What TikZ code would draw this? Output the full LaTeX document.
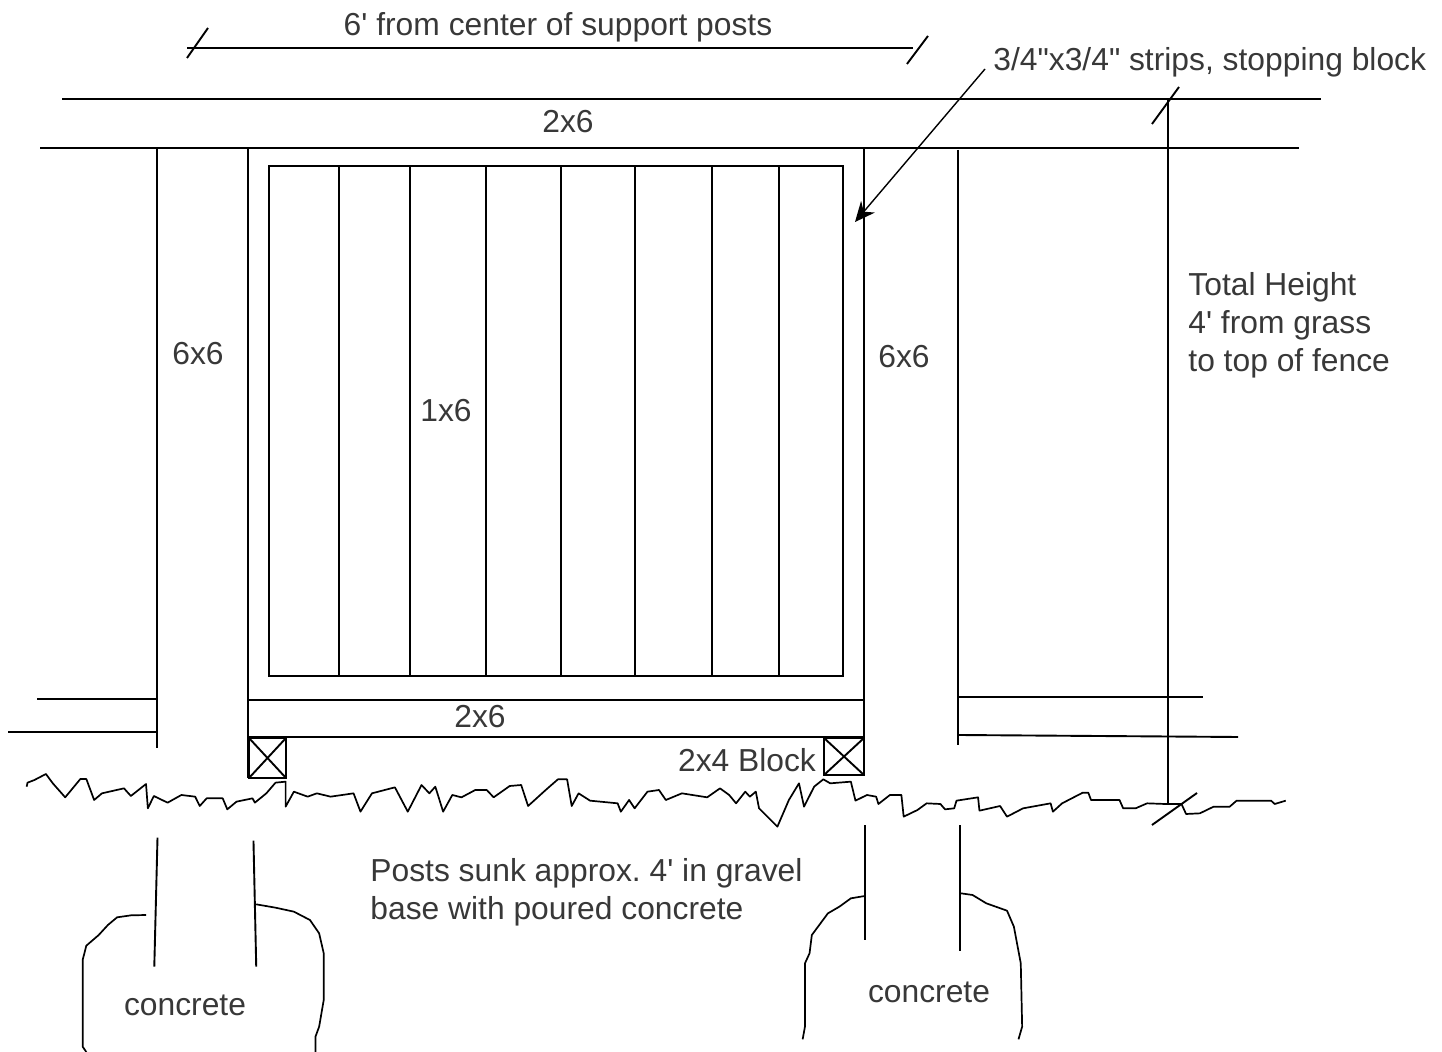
\documentclass[tikz,border=0pt]{standalone}
\usepackage{fontspec}
\newfontfamily\lab{Liberation Sans}
\usetikzlibrary{arrows.meta}
\tikzset{
  ln/.style={draw=black,line width=0.95pt},
  rough/.style={draw=black,line width=0.85pt,line join=round},
  lbl/.style={font=\lab\frenchspacing\fontsize{15.9}{19}\selectfont,text=black!78,inner sep=0pt,align=left},
  zoomL/.style={x=0.2296pt,y=-0.16667pt,shift={(0pt,-340pt)}},
  zoomR/.style={x=0.2296pt,y=-0.16667pt,shift={(360pt,-340pt)}}
}
\begin{document}
\begin{tikzpicture}[x=0.5pt,y=-0.5pt]
\useasboundingbox (0,0) rectangle (1442,1052);
% dimension along the top
\coordinate (dl) at (187,48); \coordinate (dr) at (913,48);
\coordinate (dla) at (187,58); \coordinate (dlb) at (208,28);
\coordinate (dra) at (907,64); \coordinate (drb) at (928,36);
\draw[ln] (dl) -- (dr); \draw[ln] (dla) -- (dlb); \draw[ln] (dra) -- (drb);
% top rail
\coordinate (t1a) at (62,99); \coordinate (t1b) at (1321,99);
\coordinate (t2a) at (40,148); \coordinate (t2b) at (1299,148);
\draw[ln] (t1a) -- (t1b); \draw[ln] (t2a) -- (t2b);
% posts
\draw[ln] (157,148) -- (157,748);
\draw[ln] (248,148) -- (248,778);
\draw[ln] (864,148) -- (864,775);
\draw[ln] (958,150) -- (958,745);
% panel and boards
\draw[ln] (269,166) rectangle (843,676);
\foreach \bx in {339,410,486,561,635,712,779} \draw[ln] (\bx,166) -- (\bx,676);
% bottom rails
\draw[ln] (248,700) -- (864,700);
\draw[ln] (248,737) -- (864,737);
\draw[ln] (37,699) -- (157,699);
\draw[ln] (8,732) -- (157,732);
\draw[ln] (958,697) -- (1203,697);
\draw[ln] (958,735) -- (1238,737);
% blocks
\draw[ln] (249,738) rectangle (286,778) (249,738) -- (286,778) (286,738) -- (249,778);
\draw[ln] (824,738) rectangle (864,775) (824,738) -- (864,775) (864,738) -- (824,775);
% total height
\coordinate (hT) at (1168,99); \coordinate (hB) at (1168,805);
\draw[ln] (hT) -- (hB);
\draw[ln] (1152,124) -- (1179,87);
\draw[ln] (1152,825) -- (1197,793);
% ground
\begin{scope}[zoomL]
\draw[rough] (58,320)--(60,308)--(75,300)--(100,282)--(115,310)--(142,352)--(175,297)--(188,297)--(205,360)--(222,340)--(270,325)--(285,348)--(318,312)--(322,385)--(335,348)--(365,368)--(395,345)--(425,350)--(435,378)--(450,355)--(485,355)--(495,388)--(515,365)--(550,355)--(555,368)--(580,340)--(600,308)--(622,305)--(622,380)--(640,335)--(670,350)--(690,340)--(720,350)--(770,340)--(785,395)--(810,340)--(860,322)--(888,395)--(918,315)--(935,340)--(948,320)--(965,395)--(985,345)--(1005,352)--(1035,330)--(1060,330)--(1075,352)--(1110,318)--(1135,315)--(1150,378)--(1190,328)--(1215,298)--(1235,298)--(1245,378)--(1260,340)--(1285,362)--(1345,370)--(1352,395)--(1370,360)--(1382,385)--(1410,335)--(1435,330)--(1450,360)--(1485,340)--(1540,352)--(1568,325);
% left footing
\draw[ln] (343,473) -- (336,860);
\draw[ln] (552,482) -- (558,860);
\draw[rough] (318,705)--(285,706)--(255,712)--(235,735)--(215,765)--(188,797)--(180,840)--(180,1100)--(188,1116);
\draw[rough] (558,673)--(600,683)--(640,695)--(675,720)--(695,760)--(705,820)--(705,960)--(695,1040)--(687,1070)--(687,1116);
\end{scope}
\begin{scope}[zoomR]
\draw[rough] (0,325)--(20,345)--(35,370)--(55,335)--(65,350)--(78,335)--(85,385)--(125,440)--(150,360)--(172,310)--(183,380)--(205,320)--(225,298)--(240,310)--(285,305)--(295,362)--(320,345)--(340,350)--(345,372)--(370,345)--(395,345)--(400,410)--(430,390)--(450,370)--(480,372)--(490,388)--(510,385)--(515,362)--(562,352)--(565,392)--(610,378)--(625,410)--(660,385)--(720,370)--(725,395)--(745,370)--(790,338)--(802,338)--(808,360)--(870,360)--(878,385)--(905,385)--(930,370)--(970,372)--(1005,372)--(1015,402)--(1045,400)--(1075,380)--(1110,380)--(1125,362)--(1200,362)--(1208,372)--(1232,362);
% right footing
\draw[ln] (315,435) -- (315,780);
\draw[ln] (522,435) -- (522,812);
\draw[rough] (315,648)--(285,655)--(260,680)--(235,700)--(200,765)--(195,820)--(185,850)--(185,1040)--(180,1078);
\draw[rough] (525,640)--(550,645)--(580,670)--(625,692)--(640,740)--(655,850)--(658,1040)--(650,1078);
\end{scope}
% labels
\node[lbl] (nTop) at (558,27) {6' from center of support posts};
\node[lbl,anchor=west] (nStrip) at (993,62) {3/4"x3/4" strips, stopping block};
\node[lbl] (nRailT) at (568,122) {2x6};
\node[lbl] (nPostL) at (198,354) {6x6};
\node[lbl] (nPostR) at (904,357) {6x6};
\node[lbl] (nBoard) at (446,411) {1x6};
\node[lbl] (nRailB) at (480,717) {2x6};
\node[lbl] (nBlock) at (747,760) {2x4 Block};
\node[lbl,anchor=west] (nHeight) at (1188,325) {Total Height\\4' from grass\\to top of fence};
\node[lbl,anchor=west] (nPosts) at (370,892) {Posts sunk approx. 4' in gravel\\base with poured concrete};
\node[lbl] (nConcL) at (185,1005) {concrete};
\node[lbl] (nConcR) at (929,992) {concrete};
% arrow to the strip
\coordinate (aS) at (985,69); \coordinate (aE) at (855,222);
\draw[draw=black,line width=0.7pt,-{Stealth[length=10pt,width=9pt]}] (aS) -- (aE);
\end{tikzpicture}
\end{document}
